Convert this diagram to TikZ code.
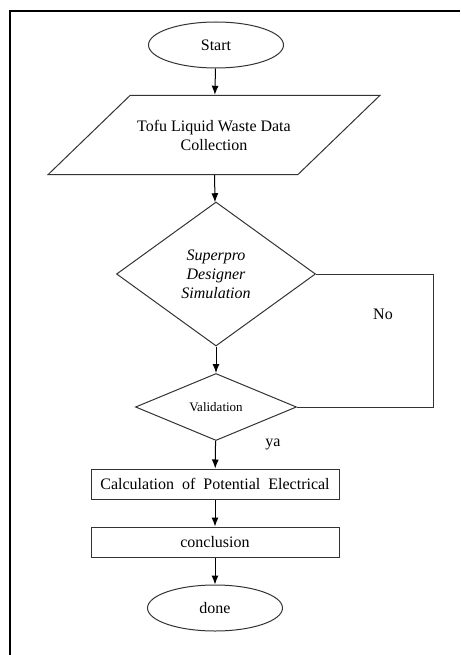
\documentclass[tikz,border=0pt]{standalone}
\usepackage{fontspec}
\setmainfont{Liberation Serif}
\usetikzlibrary{shapes.geometric,arrows.meta}

\tikzset{
  base/.style={draw=black!80, line width=1pt, font=\fontsize{16}{19}\selectfont, align=center, inner sep=0pt},
  terminal/.style={base, ellipse, minimum width=135pt, minimum height=46pt},
  inputbox/.style={base, trapezium, trapezium left angle=44, trapezium right angle=136,
    inner xsep=7pt, inner ysep=24.5pt},
  decision/.style={base, diamond},
  process/.style={base, rectangle, minimum width=248pt, minimum height=30pt},
  flow/.style={->, line width=1pt},
  label/.style={font=\fontsize{16}{19}\selectfont}
}

\begin{document}
\begin{tikzpicture}[x=1pt, y=-1pt, >={Latex[length=9pt,width=7pt]}]

\useasboundingbox (0,0) rectangle (460,655);

% Draw the frame
\draw[line width=2pt] (10,655) -- (10,11) -- (460,11);

% Draw the shapes
\node[terminal] (start) at (216,45) {Start};
\node[inputbox] (data) at (214,135) {Tofu Liquid Waste Data\\Collection};
\node[decision, minimum width=199pt, minimum height=144pt] (sim) at (216,274)
  {\itshape Superpro\\\itshape Designer\\\itshape Simulation};
\node[decision, minimum width=161pt, minimum height=67pt, font=\fontsize{13}{15}\selectfont] (valid) at (216,407) {Validation};
\node[process] (calc) at (215,484) {Calculation\ \ of\ \ Potential\ \ Electrical};
\node[process] (concl) at (215,542) {conclusion};
\node[terminal] (done) at (215,608) {done};

% Draw the arrows
\draw[flow] (start) -- (data);
\draw[flow] (data) -- (sim);
\draw[flow] (sim) -- (valid);
\draw[flow] (valid) -- (calc);
\draw[flow] (calc) -- (concl);
\draw[flow] (concl) -- (done);

% Draw the loop back and its labels
\coordinate (turn) at (433,0);
\draw[line width=1pt, draw=black!80] (sim.east) -- (sim.east -| turn) -- (valid.east -| turn) -- (valid.east);
\node[label] (no) at (383,314) {No};
\node[label] (ya) at (273,444) {ya};

\end{tikzpicture}
\end{document}
